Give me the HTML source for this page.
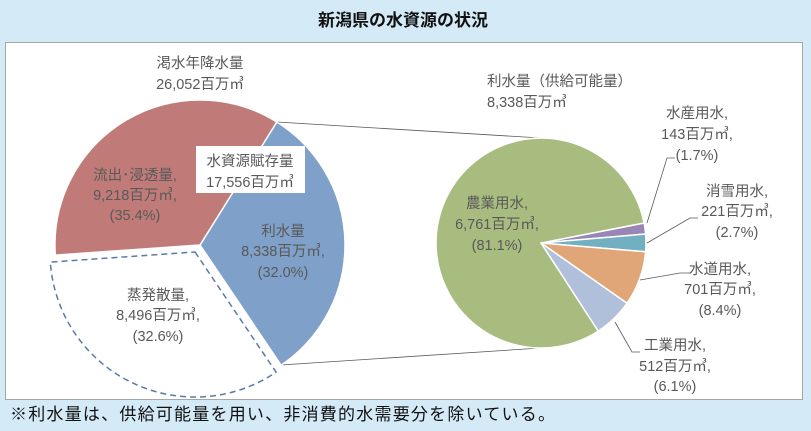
<!DOCTYPE html>
<html><head><meta charset="utf-8"><style>
html,body{margin:0;padding:0;background:#d5eaf7;}
svg{display:block;}
text{font-family:"Liberation Sans","Noto Sans CJK JP",sans-serif;}
.l{font-size:14.5px;fill:#595959;text-anchor:middle;}
</style></head><body>
<svg width="811" height="431" viewBox="0 0 811 431" xmlns="http://www.w3.org/2000/svg">
<rect width="811" height="431" fill="#d5eaf7"/>
<text x="403" y="26" font-size="17" font-weight="bold" text-anchor="middle" fill="#111">新潟県の水資源の状況</text>
<rect x="5.5" y="42.5" width="797" height="357" fill="#fff" stroke="#a6a6a6"/>
<line x1="277" y1="122" x2="541" y2="138" stroke="#595959" stroke-width="0.8"/>
<line x1="281" y1="365" x2="541" y2="348" stroke="#595959" stroke-width="0.8"/>
<path d="M200,245 L276.8,122 A145,145 0 0 1 281.1,365.2 Z" fill="#7fa0c8" stroke="#fff" stroke-width="1.5"/>
<path d="M200,245 L55.3,255.1 A145,145 0 0 1 276.8,122 Z" fill="#c07b79" stroke="#fff" stroke-width="1.5"/>
<path d="M195,252 L276.1,372.2 A145,145 0 0 1 50.3,262.1 Z" fill="#fff" stroke="#5b7aa8" stroke-width="1.5" stroke-dasharray="6,4"/>
<g stroke="#fff" stroke-width="1.5">
<path d="M541,243 L644.1,223 A105,105 0 0 1 645.6,234 Z" fill="#9a86b4"/>
<path d="M541,243 L645.6,234 A105,105 0 0 1 645.6,251.8 Z" fill="#72b0c1"/>
<path d="M541,243 L645.6,251.8 A105,105 0 0 1 627,303.2 Z" fill="#e0a677"/>
<path d="M541,243 L627,303.2 A105,105 0 0 1 598.2,331.1 Z" fill="#b0c0da"/>
<path d="M541,243 L598.2,331.1 A105,105 0 1 1 644.1,223 Z" fill="#a9bc80"/>
</g>
<g fill="none" stroke="#595959" stroke-width="0.8">
<polyline points="647,223 667,158 675,158"/>
<polyline points="647,243 690,218 698,218"/>
<polyline points="640,280 680,273 690,273"/>
<polyline points="615,322 632,352 640,352"/>
</g>
<text class="l" x="200" y="68">渇水年降水量</text>
<text class="l" x="200" y="89">26,052百万㎥</text>
<text class="l" x="135" y="180">流出･浸透量,</text>
<text class="l" x="135" y="200">9,218百万㎥,</text>
<text class="l" x="135" y="220">(35.4%)</text>
<rect x="196" y="146" width="109" height="47" fill="#fff"/>
<text class="l" x="250" y="166">水資源賦存量</text>
<text class="l" x="250" y="187">17,556百万㎥</text>
<text class="l" x="283" y="236">利水量</text>
<text class="l" x="283" y="256">8,338百万㎥,</text>
<text class="l" x="283" y="277">(32.0%)</text>
<text class="l" x="158" y="300">蒸発散量,</text>
<text class="l" x="158" y="320">8,496百万㎥,</text>
<text class="l" x="158" y="341">(32.6%)</text>
<text class="l" x="487" y="86" style="text-anchor:start">利水量（供給可能量）</text>
<text class="l" x="487" y="107" style="text-anchor:start">8,338百万㎥</text>
<text class="l" x="697" y="118">水産用水,</text>
<text class="l" x="697" y="139">143百万㎥,</text>
<text class="l" x="697" y="160">(1.7%)</text>
<text class="l" x="737" y="196">消雪用水,</text>
<text class="l" x="737" y="216">221百万㎥,</text>
<text class="l" x="737" y="237">(2.7%)</text>
<text class="l" x="720" y="274">水道用水,</text>
<text class="l" x="720" y="294">701百万㎥,</text>
<text class="l" x="720" y="315">(8.4%)</text>
<text class="l" x="675" y="350">工業用水,</text>
<text class="l" x="675" y="371">512百万㎥,</text>
<text class="l" x="675" y="391">(6.1%)</text>
<text class="l" x="497" y="208">農業用水,</text>
<text class="l" x="497" y="229">6,761百万㎥,</text>
<text class="l" x="497" y="250">(81.1%)</text>
<text x="10" y="420" font-size="17" fill="#111" textLength="545" lengthAdjust="spacing">※利水量は、供給可能量を用い、非消費的水需要分を除いている。</text>
</svg>
</body></html>
